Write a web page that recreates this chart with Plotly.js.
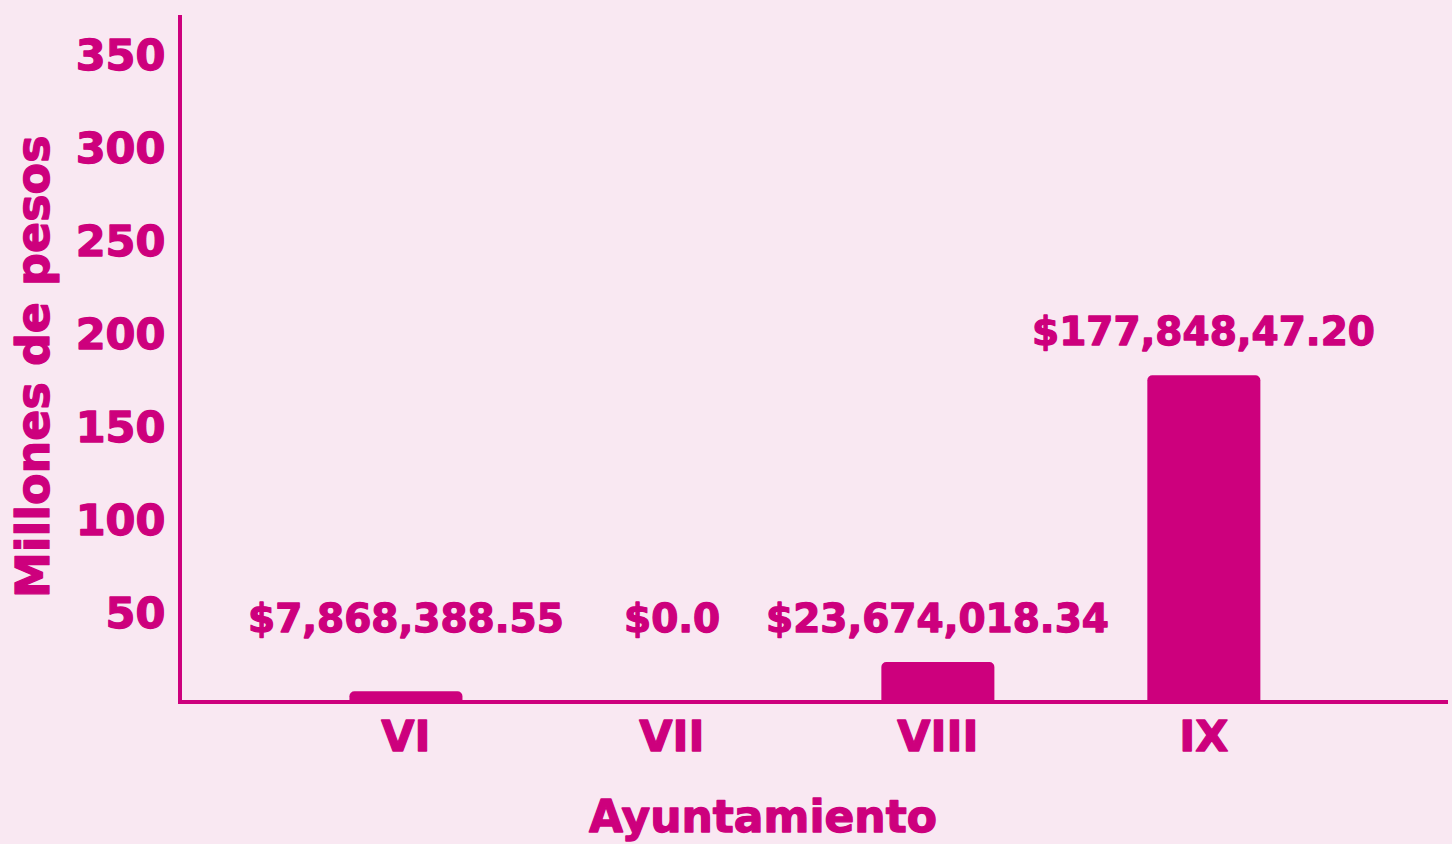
<!DOCTYPE html>
<html>
<head>
<meta charset="utf-8">
<script src="https://cdn.plot.ly/plotly-3.0.1.min.js"></script>
<style>
  html, body { margin: 0; padding: 0; background: #f9e8f2; }
  #chart { width: 1452px; height: 844px; }
  #chart text { stroke: #cd007d; stroke-width: 1.3px; stroke-linejoin: round; paint-order: stroke fill; }
</style>
</head>
<body>
<div id="chart"></div>
<script>
// ---- data ----
const categories = ["VI", "VII", "VIII", "IX"];
const valuesMillions = [7.868, 0.0, 23.674, 177.848];
const valueLabels = ["$7,868,388.55", "$0.0", "$23,674,018.34", "$177,848,47.20"];
const yTickVals = [50, 100, 150, 200, 250, 300, 350];
const xTitle = "Ayuntamiento";
const yTitle = "Millones de pesos";

// ---- style ----
const MAG = "#cd007d";
const BG = "#f9e8f2";
const FONT = "DejaVu Sans, sans-serif";
const xIdx = categories.map((_, i) => i);

const trace = {
  type: "bar",
  x: xIdx,
  y: valuesMillions,
  width: 0.425,
  marker: { color: MAG, line: { width: 0 } },
  hoverinfo: "skip"
};

const minLabelLevel = 23.7;
const annotations = valueLabels.map((t, i) => ({
  x: xIdx[i],
  y: Math.max(valuesMillions[i], minLabelLevel),
  xref: "x", yref: "y",
  text: t,
  showarrow: false,
  yanchor: "bottom",
  yshift: 19,
  font: { family: FONT, size: 39, color: MAG, weight: 700 }
}));

// axis titles placed as annotations (offset from plot centre as in the original)
annotations.push({
  xref: "paper", yref: "paper",
  x: 0.459, y: 0, yanchor: "middle", yshift: -116,
  text: xTitle, showarrow: false,
  font: { family: FONT, size: 44, color: MAG, weight: 700 }
});
annotations.push({
  xref: "paper", yref: "paper",
  x: 0, xanchor: "center", xshift: -149,
  y: 0.486, yanchor: "middle",
  textangle: -90,
  text: yTitle, showarrow: false,
  font: { family: FONT, size: 46, color: MAG, weight: 700 }
});

const layout = {
  width: 1452, height: 844,
  paper_bgcolor: BG, plot_bgcolor: BG,
  margin: { l: 182, r: 4, t: 15, b: 144 },
  showlegend: false,
  barcornerradius: 5,
  xaxis: {
    range: [-0.842, 3.918],
    tickmode: "array",
    tickvals: xIdx,
    ticktext: categories,
    showgrid: false, zeroline: false,
    showline: true, linecolor: MAG, linewidth: 4,
    ticks: "",
    ticklabelstandoff: -5,
    tickfont: { family: FONT, size: 43, color: MAG, weight: 700 }
  },
  yaxis: {
    range: [3.2, 371.5],
    tickmode: "array",
    tickvals: yTickVals,
    showgrid: false, zeroline: false,
    showline: true, linecolor: MAG, linewidth: 4,
    ticks: "",
    ticklabelstandoff: 4,
    tickfont: { family: FONT, size: 43, color: MAG, weight: 700 }
  },
  annotations: annotations
};

Plotly.newPlot("chart", [trace], layout, { displayModeBar: false, staticPlot: true });
</script>
</body>
</html>
